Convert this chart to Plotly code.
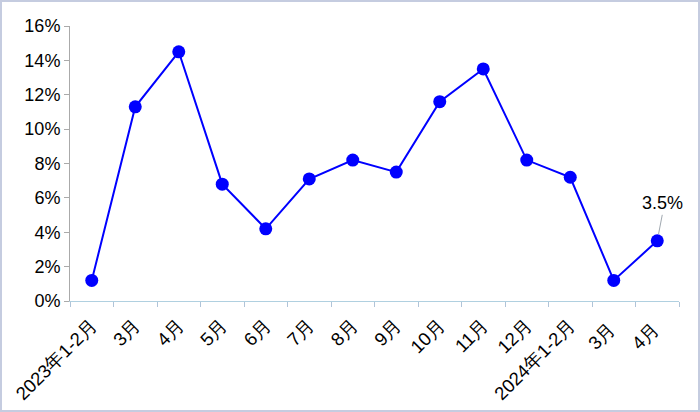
import plotly.graph_objects as go

categories = ["2023年1-2月", "3月", "4月", "5月", "6月", "7月", "8月", "9月",
              "10月", "11月", "12月", "2024年1-2月", "3月 ", "4月 "]
values = [1.2, 11.3, 14.5, 6.8, 4.2, 7.1, 8.2, 7.5, 11.6, 13.5, 8.2, 7.2, 1.2, 3.5]
y_ticks = [0, 2, 4, 6, 8, 10, 12, 14, 16]
y_tick_labels = [f"{v}%" for v in y_ticks]

L, R, T, B = 70, 21, 26, 111
W, H = 700, 412
pw, ph = W - L - R, H - T - B

fig = go.Figure()
fig.add_trace(go.Scatter(
    x=categories, y=values, mode="lines+markers",
    line=dict(color="#0000FF", width=2),
    marker=dict(color="#0000FF", size=13),
    cliponaxis=False, showlegend=False,
))

fig.add_annotation(
    x=categories[-1], y=values[-1], text="3.5%",
    showarrow=True, arrowhead=0, arrowwidth=1, arrowcolor="#A0A8B0",
    ax=5, ay=-26, standoff=7,
    font=dict(family="Liberation Sans, Arial", size=18, color="#000"),
    yanchor="bottom",
)

fig.add_shape(
    type="rect", xref="paper", yref="paper",
    x0=-(L - 1) / pw, x1=1 + (R - 1) / pw, y0=-(B - 1) / ph, y1=1 + (T - 1) / ph,
    line=dict(color="#C5CCE0", width=2), layer="below",
)

fig.update_layout(
    width=W, height=H,
    margin=dict(l=L, r=R, t=T, b=B, autoexpand=False),
    paper_bgcolor="white", plot_bgcolor="white",
    font=dict(family="Liberation Sans, Arial", size=18, color="#000"),
    xaxis=dict(
        type="category", tickangle=-45, tickson="boundaries",
        ticks="outside", ticklen=5, tickcolor="#B0C4D8",
        showline=True, linecolor="#B0D0E0", linewidth=1,
        showgrid=False, tickfont=dict(size=18.5), automargin=False,
        ticklabelstandoff=5,
        range=[-0.5, len(categories) - 0.5],
    ),
    yaxis=dict(
        range=[0, 16], tickvals=y_ticks, ticktext=y_tick_labels,
        ticks="outside", ticklen=5, tickcolor="#AAAAAA",
        showline=True, linecolor="#AAAAAA", linewidth=1,
        showgrid=False, zeroline=False, tickfont=dict(size=18), automargin=False,
    ),
)

fig.write_html(
    "out.html",
    config={"displayModeBar": False},
    post_script="document.body.style.margin='0';document.body.style.overflow='hidden';",
)
